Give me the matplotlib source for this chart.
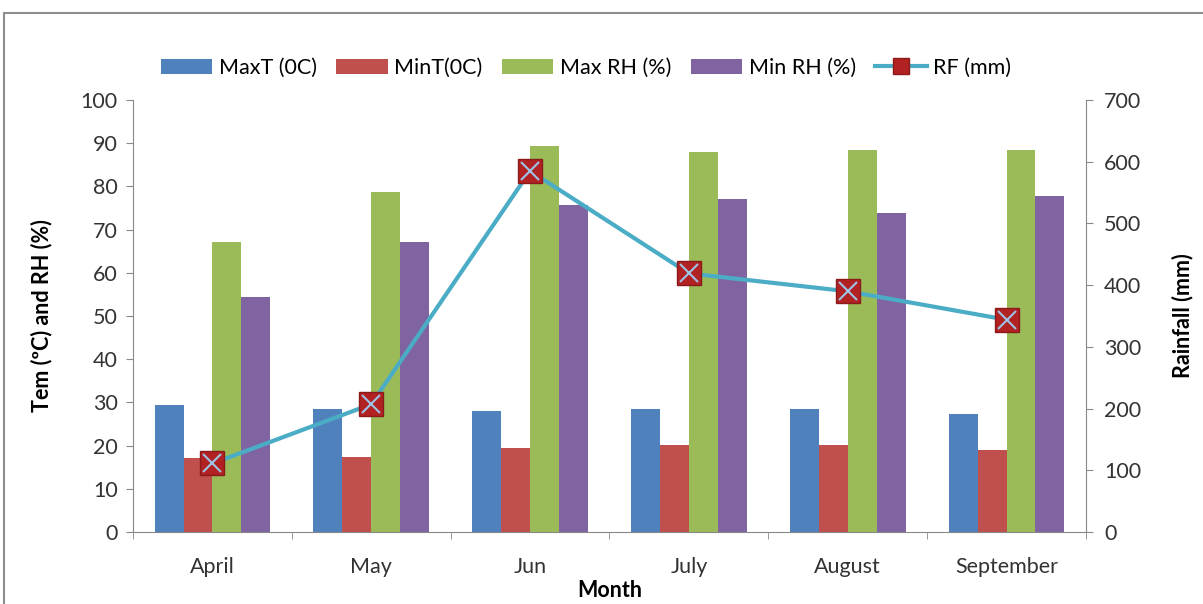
import numpy as np
import matplotlib.pyplot as plt
from matplotlib.patches import Rectangle

months = ["April", "May", "Jun", "July", "August", "September"]
max_t = [29.3, 28.4, 27.9, 28.4, 28.4, 27.2]
min_t = [17.1, 17.3, 19.4, 20.1, 20.1, 18.9]
max_rh = [67.2, 78.8, 89.4, 88.0, 88.5, 88.5]
min_rh = [54.5, 67.2, 75.7, 77.1, 73.9, 77.8]
rainfall = [111, 207, 585, 419, 390, 344]

plt.rcParams['font.family'] = ['Lato', 'DejaVu Sans']
FS = 15.5

fig = plt.figure(figsize=(12.03, 6.04), dpi=100)
fig.patches.append(Rectangle((4 / 1203, -0.05), 1.2, (604 - 13) / 604 + 0.05,
                             transform=fig.transFigure, fill=False,
                             edgecolor='#8c8c8c', linewidth=1.5))

ax = fig.add_axes([133 / 1203, 72 / 604, 953 / 1203, 432 / 604])
x = np.arange(len(months))
w = 0.182
series = [(max_t, '#4F81BD', 'MaxT (0C)'),
          (min_t, '#C0504D', 'MinT(0C)'),
          (max_rh, '#9BBB59', 'Max RH (%)'),
          (min_rh, '#8064A2', 'Min RH (%)')]
handles = []
for i, (vals, col, lab) in enumerate(series):
    b = ax.bar(x + (i - 1.5) * w, vals, w, color=col, label=lab, zorder=2)
    handles.append(b)

ax.set_xlim(-0.5, len(months) - 0.5)
ax.set_ylim(0, 100)
ax.set_yticks(range(0, 101, 10))
ax.set_xticks(x)
ax.set_xticklabels(months)
ax.set_xticks(np.arange(-0.5, len(months)), minor=True)
ax.tick_params(axis='x', which='major', length=0, labelsize=FS, colors='#333333', pad=18)
ax.tick_params(axis='x', which='minor', length=5, color='#888888')
ax.tick_params(axis='y', labelsize=FS, colors='#333333', length=5, color='#888888', pad=6)
for s in ['top', 'right']:
    ax.spines[s].set_visible(False)
ax.spines['left'].set_color('#888888')
ax.spines['bottom'].set_color('#888888')
ax.set_ylabel('Tem (ºC) and RH (%)', fontsize=FS, fontweight='bold', labelpad=20)
ax.set_xlabel('Month', fontsize=FS, fontweight='bold', labelpad=2)

ax2 = ax.twinx()
ax2.set_ylim(0, 700)
ax2.set_yticks(range(0, 701, 100))
ax2.tick_params(axis='y', labelsize=FS, colors='#333333', length=5, color='#888888', pad=8)
for s in ['top', 'left', 'bottom']:
    ax2.spines[s].set_visible(False)
ax2.spines['right'].set_color('#888888')
ax2.set_ylabel('Rainfall (mm)', fontsize=FS, fontweight='bold', labelpad=22)

line, = ax2.plot(x, rainfall, color='#4BACC6', linewidth=3, marker='s',
                 markersize=17, markerfacecolor='#B22222', markeredgecolor='#8B1A1A',
                 zorder=3, label='RF (mm)')
ax2.plot(x, rainfall, linestyle='none', marker='x', markersize=13,
         markeredgecolor='#9DC3E6', markeredgewidth=1.5, zorder=4)

fig.legend(handles + [line], [h.get_label() for h in handles] + ['RF (mm)'],
           loc='center', bbox_to_anchor=(586 / 1203, 1 - 68 / 604), ncol=5,
           frameon=False, fontsize=FS, handlelength=2.4, columnspacing=0.9,
           handletextpad=0.3, markerscale=0.7)

fig.savefig('out.png', dpi=100)
